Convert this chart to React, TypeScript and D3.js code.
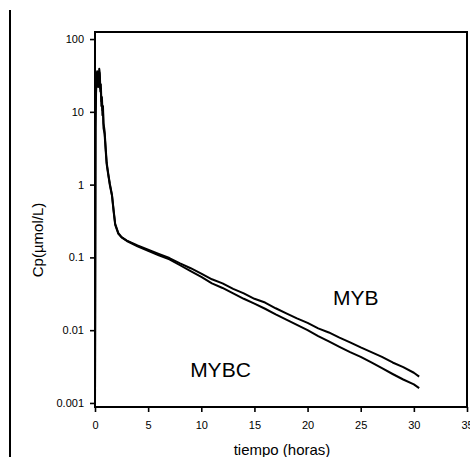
import React, { useEffect, useRef } from "react";
import * as d3 from "d3";

// sampling times (hours), shared by both curves
const hours = [
  0, 0.05, 0.1, 0.15, 0.2, 0.25, 0.3, 0.35, 0.4, 0.45, 0.5, 0.55, 0.6, 0.65, 0.7,
  0.75, 0.8, 0.9, 1.0, 1.1, 1.25, 1.4, 1.6, 1.75, 1.9, 2.2, 2.5, 3, 4, 5, 6, 7, 8,
  9, 10, 11, 12, 13, 14, 15, 16, 17, 18, 19, 20, 21, 22, 23, 24, 25, 26, 27, 28,
  29, 30, 30.5,
];

// plasma concentration, µmol/L
const myb = [
  0.0009, 9, 22, 32, 36, 29, 25, 31, 39, 34, 21, 24, 14, 16, 10.5, 12, 7, 5.5,
  3.3, 2.0, 1.4, 1.02, 0.72, 0.45, 0.29, 0.215, 0.19, 0.17, 0.146, 0.128, 0.112,
  0.098, 0.083, 0.071, 0.06, 0.05, 0.044, 0.037, 0.032, 0.027, 0.024, 0.02,
  0.017, 0.0145, 0.0126, 0.0106, 0.0093, 0.0079, 0.0068, 0.0058, 0.005, 0.0043,
  0.0036, 0.0031, 0.0026, 0.0023,
];
const mybc = [
  0.0009, 6, 18, 28, 33, 26, 22, 28, 35, 30, 19, 20, 12, 14, 9, 10, 6, 5.0, 3.0,
  1.9, 1.35, 0.98, 0.7, 0.43, 0.28, 0.21, 0.188, 0.168, 0.142, 0.123, 0.107,
  0.094, 0.078, 0.065, 0.054, 0.044, 0.038, 0.032, 0.027, 0.0232, 0.0197,
  0.0165, 0.014, 0.0118, 0.01, 0.0083, 0.007, 0.0059, 0.005, 0.0043, 0.0036,
  0.003, 0.0025, 0.0021, 0.0018, 0.0016,
];

const xTicks = [0, 5, 10, 15, 20, 25, 30, 35];
const yTicks = [0.001, 0.01, 0.1, 1, 10, 100];

const font = "'Liberation Sans', Arial, sans-serif";

const App = () => {
  const xAxisRef = useRef(null);
  const yAxisRef = useRef(null);
  const width = 470;
  const height = 457;
  const margin = { top: 32, right: 3, bottom: 50, left: 95 };

  const x = d3.scaleLinear().domain([0, 35]).range([margin.left, width - margin.right]);
  const y = d3
    .scaleLog()
    .domain([0.00088, 125])
    .range([height - margin.bottom, margin.top]);

  const line = d3
    .line<number>()
    .x((d, i) => x(hours[i]))
    .y((d) => y(d));

  useEffect(() => {
    const xa = d3
      .select(xAxisRef.current)
      .call(d3.axisBottom(x).tickValues(xTicks).tickSize(5).tickSizeOuter(0).tickPadding(9));
    const ya = d3
      .select(yAxisRef.current)
      .call(
        d3
          .axisLeft(y)
          .tickValues(yTicks)
          .tickSize(5)
          .tickSizeOuter(0)
          .tickPadding(6)
          .tickFormat((d) => String(d))
      );
    [xa, ya].forEach((a) => {
      a.select(".domain").remove();
      a.selectAll("line").attr("stroke", "#000").attr("stroke-width", 1.6);
      a.selectAll("text")
        .attr("fill", "#000")
        .style("font-family", font)
        .style("font-size", "11px");
    });
  }, []);

  return (
    <svg
      width={width}
      height={height}
      style={{ position: "absolute", left: 0, top: 0, background: "#fff" }}
    >
      <defs>
        <clipPath id="plot">
          <rect
            x={margin.left}
            y={margin.top}
            width={width - margin.left - margin.right}
            height={height - margin.top - margin.bottom}
          />
        </clipPath>
      </defs>
      <line x1={10} x2={10} y1={10} y2={height} stroke="#000" strokeWidth={2} />
      <g clipPath="url(#plot)" fill="none" stroke="#000" strokeWidth={2} strokeLinejoin="round">
        <path d={line(myb) || ""} />
        <path d={line(mybc) || ""} />
      </g>
      <rect
        x={margin.left}
        y={margin.top}
        width={width - margin.left - margin.right}
        height={height - margin.top - margin.bottom}
        fill="none"
        stroke="#000"
        strokeWidth={2}
      />
      <g ref={xAxisRef} transform={`translate(0,${height - margin.bottom})`} />
      <g ref={yAxisRef} transform={`translate(${margin.left},0)`} />
      <text x={x(22.4)} y={y(0.0222)} fontFamily={font} fontSize={21}>
        MYB
      </text>
      <text x={x(8.95)} y={y(0.00225)} fontFamily={font} fontSize={21}>
        MYBC
      </text>
      <text x={282} y={455} textAnchor="middle" fontFamily={font} fontSize={15}>
        tiempo (horas)
      </text>
      <text
        transform="translate(43,240) rotate(-90)"
        textAnchor="middle"
        fontFamily={font}
        fontSize={15}
      >
        Cp(µmol/L)
      </text>
    </svg>
  );
};

export default App;
